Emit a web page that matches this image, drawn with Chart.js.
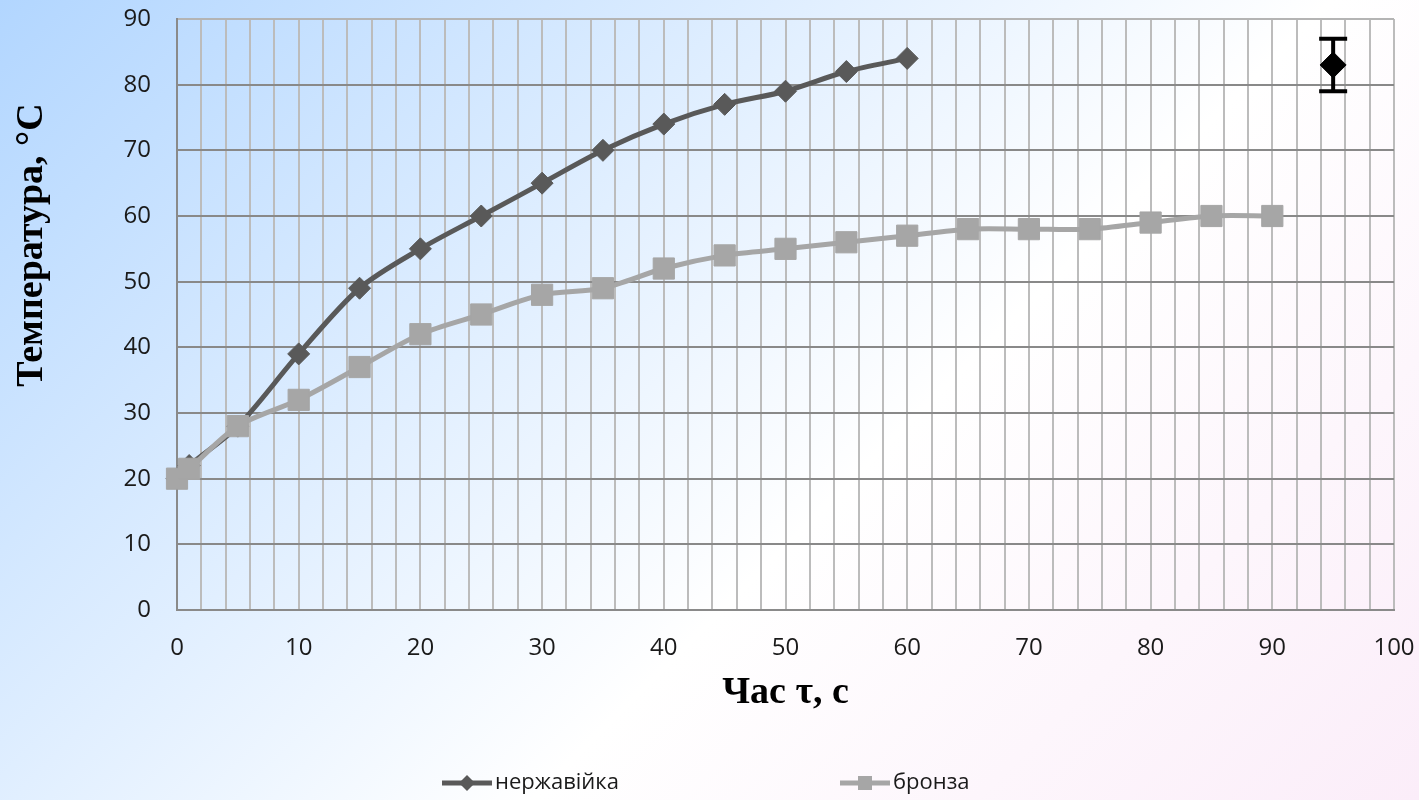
<!DOCTYPE html>
<html>
<head>
<meta charset="utf-8">
<script src="https://cdn.jsdelivr.net/npm/chart.js@4.4.1/dist/chart.umd.min.js"></script>
<style>
  html, body { margin: 0; padding: 0; }
  body {
    width: 1419px;
    height: 800px;
    overflow: hidden;
    background: linear-gradient(135deg, #b2d6ff 0%, #ffffff 60%, #fbedf9 100%);
  }
  #wrap { position: relative; width: 1419px; height: 800px; }
</style>
</head>
<body>
<div id="wrap"><canvas id="chartTemp" width="1419" height="800"></canvas></div>
<script>
// нержавійка
const timeSteel = [0, 1, 5, 10, 15, 20, 25, 30, 35, 40, 45, 50, 55, 60];
const tempSteel = [20, 22, 28, 39, 49, 55, 60, 65, 70, 74, 77, 79, 82, 84];

// бронза
const timeBronze = [0, 1, 5, 10, 15, 20, 25, 30, 35, 40, 45, 50, 55, 60, 65, 70, 75, 80, 85, 90];
const tempBronze = [20, 21.5, 28, 32, 37, 42, 45, 48, 49, 52, 54, 55, 56, 57, 58, 58, 58, 59, 60, 60];

// маркер похибки
const errX = [95];
const errY = [83];
const errDelta = [4];

const seriesNames = ["нержавійка", "бронза"];
const xTitle = "Час τ, с";
const yTitle = "Температура, °C";

const steelColor = "#595959";
const bronzeColor = "#a6a6a6";

const toPoints = (xs, ys) => xs.map((x, i) => ({ x: x, y: ys[i] }));

// вертикальні «вуса» похибки
const errorBars = {
  id: "errorBars",
  beforeDatasetsDraw(chart) {
    const { ctx, scales } = chart;
    ctx.save();
    ctx.strokeStyle = "#000";
    errX.forEach((xv, i) => {
      const px = scales.x.getPixelForValue(xv);
      const top = scales.y.getPixelForValue(errY[i] + errDelta[i]);
      const bot = scales.y.getPixelForValue(errY[i] - errDelta[i]);
      ctx.lineWidth = 4;
      ctx.beginPath();
      ctx.moveTo(px, top);
      ctx.lineTo(px, bot);
      ctx.stroke();
      ctx.lineWidth = 4;
      ctx.beginPath();
      ctx.moveTo(px - 14, top);
      ctx.lineTo(px + 14, top);
      ctx.moveTo(px - 14, bot);
      ctx.lineTo(px + 14, bot);
      ctx.stroke();
    });
    ctx.restore();
  }
};

// підписи осей та легенда
const decor = {
  id: "decor",
  afterDraw(chart) {
    const { ctx, chartArea } = chart;
    ctx.save();
    ctx.fillStyle = "#000";
    ctx.font = 'bold 38px "Liberation Serif"';
    ctx.textAlign = "center";
    ctx.textBaseline = "alphabetic";
    ctx.fillText(xTitle, (chartArea.left + chartArea.right) / 2, 703);

    ctx.save();
    ctx.translate(42, 245);
    ctx.rotate(-Math.PI / 2);
    ctx.fillText(yTitle, 0, 0);
    ctx.restore();

    // легенда
    const ly = 783;
    const items = [
      { x: 442, color: steelColor, shape: "diamond", text: seriesNames[0] },
      { x: 840, color: bronzeColor, shape: "square", text: seriesNames[1] }
    ];
    ctx.font = '22px "Open Sans"';
    ctx.textAlign = "left";
    ctx.textBaseline = "middle";
    items.forEach(it => {
      ctx.strokeStyle = it.color;
      ctx.lineWidth = 5;
      ctx.beginPath();
      ctx.moveTo(it.x, ly);
      ctx.lineTo(it.x + 50, ly);
      ctx.stroke();
      ctx.fillStyle = it.color;
      const cx = it.x + 25;
      ctx.beginPath();
      if (it.shape === "diamond") {
        ctx.moveTo(cx, ly - 8);
        ctx.lineTo(cx + 8, ly);
        ctx.lineTo(cx, ly + 8);
        ctx.lineTo(cx - 8, ly);
        ctx.closePath();
      } else {
        ctx.rect(cx - 7, ly - 7, 14, 14);
      }
      ctx.fill();
      ctx.fillStyle = "#1a1a1a";
      ctx.fillText(it.text, it.x + 53, ly);
    });
    ctx.restore();
  }
};

const tickFont = { family: "Open Sans", size: 24 };

new Chart(document.getElementById("chartTemp"), {
  type: "line",
  data: {
    datasets: [
      {
        label: seriesNames[0],
        data: toPoints(timeSteel, tempSteel),
        borderColor: steelColor,
        backgroundColor: steelColor,
        borderWidth: 5,
        tension: 0.3,
        pointStyle: "rectRot",
        pointRadius: 11,
        pointBorderWidth: 1,
        clip: false,
        order: 2
      },
      {
        label: seriesNames[1],
        data: toPoints(timeBronze, tempBronze),
        borderColor: bronzeColor,
        backgroundColor: bronzeColor,
        borderWidth: 5,
        tension: 0.3,
        pointStyle: "rect",
        pointRadius: 15,
        pointBorderWidth: 1,
        clip: false,
        order: 1
      },
      {
        label: "похибка",
        data: toPoints(errX, errY),
        showLine: false,
        borderColor: "#000",
        backgroundColor: "#000",
        pointStyle: "rectRot",
        pointRadius: 13,
        pointBorderWidth: 1,
        clip: false,
        order: 0
      }
    ]
  },
  options: {
    responsive: false,
    animation: false,
    events: [],
    layout: { padding: 0 },
    plugins: {
      legend: { display: false },
      tooltip: { enabled: false }
    },
    scales: {
      x: {
        type: "linear",
        min: 0,
        max: 100,
        afterFit: s => {
          s.height = 190;
          s.paddingLeft = 0;
          s.paddingRight = 25;
        },
        grid: { color: "#bcbcbc", lineWidth: 2, drawTicks: false },
        border: { color: "#8a8a8a", width: 2 },
        ticks: {
          stepSize: 2,
          autoSkip: false,
          maxRotation: 0,
          padding: 24,
          color: "#1a1a1a",
          font: tickFont,
          callback: v => (v % 10 === 0 ? v : "")
        }
      },
      y: {
        min: 0,
        max: 90,
        afterFit: s => {
          s.width = 177;
          s.paddingTop = 19;
          s.paddingBottom = 0;
        },
        grid: {
          color: c => (c.tick && c.tick.value === 90 ? "#b4b4b4" : "#898989"),
          lineWidth: 2,
          drawTicks: false
        },
        border: { color: "#8a8a8a", width: 2 },
        ticks: {
          stepSize: 10,
          padding: 26,
          color: "#1a1a1a",
          font: tickFont
        }
      }
    }
  },
  plugins: [errorBars, decor]
});
</script>
</body>
</html>
